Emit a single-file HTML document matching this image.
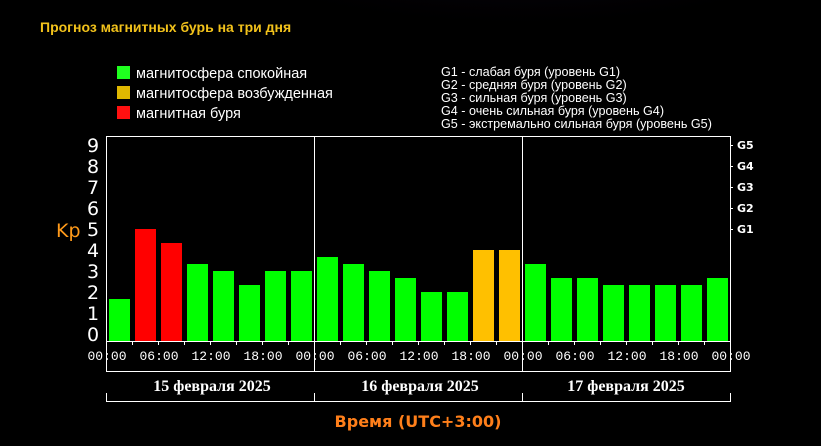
<!DOCTYPE html>
<html><head><meta charset="utf-8"><style>
html,body{margin:0;padding:0;background:#000;width:821px;height:446px;overflow:hidden}
</style></head><body>
<svg width="821" height="446" xmlns="http://www.w3.org/2000/svg" font-family="'Liberation Sans','DejaVu Sans',sans-serif">
<defs>
<radialGradient id="g1" cx="0.5" cy="0" r="0.6"><stop offset="0" stop-color="#3a1458" stop-opacity="0.9"/><stop offset="1" stop-color="#000" stop-opacity="0"/></radialGradient>
<pattern id="dots" x="0" y="0" width="13" height="21" patternUnits="userSpaceOnUse"><rect x="6" y="0" width="1" height="1" fill="#888"/></pattern>
</defs>
<rect width="821" height="446" fill="#000"/>
<ellipse cx="520" cy="10" rx="330" ry="110" fill="url(#g1)"/>
<text x="40" y="32" fill="#f2c21b" font-size="14" font-weight="bold">Прогноз магнитных бурь на три дня</text>
<rect x="117" y="66" width="13" height="13" fill="#1fff1f"/>
<rect x="117" y="86" width="13" height="13" fill="#e0b800"/>
<rect x="117" y="106" width="13" height="13" fill="#ff1010"/>
<g fill="#fff" font-size="14.5"><text x="136" y="78">магнитосфера спокойная</text><text x="136" y="98">магнитосфера возбужденная</text><text x="136" y="118">магнитная буря</text></g>
<g fill="#fff" font-size="12.6"><text x="441" y="76">G1 - слабая буря (уровень G1)</text><text x="441" y="89">G2 - средняя буря (уровень G2)</text><text x="441" y="102">G3 - сильная буря (уровень G3)</text><text x="441" y="115">G4 - очень сильная буря (уровень G4)</text><text x="441" y="128">G5 - экстремально сильная буря (уровень G5)</text></g>
<g>
<rect x="106" y="145" width="624" height="1" fill="url(#dots)"/>
<rect x="106" y="166" width="624" height="1" fill="url(#dots)"/>
<rect x="106" y="187" width="624" height="1" fill="url(#dots)"/>
<rect x="106" y="208" width="624" height="1" fill="url(#dots)"/>
<rect x="106" y="229" width="624" height="1" fill="url(#dots)"/>
</g>
<g>
<rect x="109" y="299" width="21" height="42" fill="#00ff00"/>
<rect x="135" y="229" width="21" height="112" fill="#ff0000"/>
<rect x="161" y="243" width="21" height="98" fill="#ff0000"/>
<rect x="187" y="264" width="21" height="77" fill="#00ff00"/>
<rect x="213" y="271" width="21" height="70" fill="#00ff00"/>
<rect x="239" y="285" width="21" height="56" fill="#00ff00"/>
<rect x="265" y="271" width="21" height="70" fill="#00ff00"/>
<rect x="291" y="271" width="21" height="70" fill="#00ff00"/>
<rect x="317" y="257" width="21" height="84" fill="#00ff00"/>
<rect x="343" y="264" width="21" height="77" fill="#00ff00"/>
<rect x="369" y="271" width="21" height="70" fill="#00ff00"/>
<rect x="395" y="278" width="21" height="63" fill="#00ff00"/>
<rect x="421" y="292" width="21" height="49" fill="#00ff00"/>
<rect x="447" y="292" width="21" height="49" fill="#00ff00"/>
<rect x="473" y="250" width="21" height="91" fill="#ffc000"/>
<rect x="499" y="250" width="21" height="91" fill="#ffc000"/>
<rect x="525" y="264" width="21" height="77" fill="#00ff00"/>
<rect x="551" y="278" width="21" height="63" fill="#00ff00"/>
<rect x="577" y="278" width="21" height="63" fill="#00ff00"/>
<rect x="603" y="285" width="21" height="56" fill="#00ff00"/>
<rect x="629" y="285" width="21" height="56" fill="#00ff00"/>
<rect x="655" y="285" width="21" height="56" fill="#00ff00"/>
<rect x="681" y="285" width="21" height="56" fill="#00ff00"/>
<rect x="707" y="278" width="21" height="63" fill="#00ff00"/>
</g>
<g stroke="#fff" stroke-width="1" fill="none">
<line x1="106" y1="136.5" x2="730" y2="136.5"/>
<line x1="106.5" y1="136" x2="106.5" y2="372"/>
<line x1="314.5" y1="136" x2="314.5" y2="372"/>
<line x1="522.5" y1="136" x2="522.5" y2="372"/>
<line x1="730.5" y1="136" x2="730.5" y2="372"/>
<line x1="106" y1="341.5" x2="731" y2="341.5"/>
<line x1="106" y1="371.5" x2="731" y2="371.5"/>
<line x1="106" y1="401.5" x2="731" y2="401.5"/>
<line x1="106.5" y1="393" x2="106.5" y2="401"/>
<line x1="314.5" y1="393" x2="314.5" y2="401"/>
<line x1="522.5" y1="393" x2="522.5" y2="401"/>
<line x1="730.5" y1="393" x2="730.5" y2="401"/>
<path d="M730 145.5h3M730 166.5h3M730 187.5h3M730 208.5h3M730 229.5h3"/>
<path d="M132.5 341v4M158.5 341v4M184.5 341v4M210.5 341v4M236.5 341v4M262.5 341v4M288.5 341v4M340.5 341v4M366.5 341v4M392.5 341v4M418.5 341v4M444.5 341v4M470.5 341v4M496.5 341v4M548.5 341v4M574.5 341v4M600.5 341v4M626.5 341v4M652.5 341v4M678.5 341v4M704.5 341v4"/>
</g>
<g fill="#fff" font-size="19" font-family="'DejaVu Sans',sans-serif" text-anchor="middle">
<text x="93" y="152">9</text><text x="93" y="173">8</text><text x="93" y="194">7</text><text x="93" y="215">6</text><text x="93" y="236">5</text><text x="93" y="257">4</text><text x="93" y="278">3</text><text x="93" y="299">2</text><text x="93" y="320">1</text><text x="93" y="341">0</text>
</g>
<text x="56" y="237" fill="#ff9a1a" font-size="19" font-family="'DejaVu Sans',sans-serif">Kp</text>
<g fill="#fff" font-size="11" font-weight="bold" font-family="'DejaVu Sans',sans-serif"><text x="737" y="149">G5</text><text x="737" y="170">G4</text><text x="737" y="191">G3</text><text x="737" y="212">G2</text><text x="737" y="233">G1</text></g>
<g fill="#fff" font-size="13" font-family="'Liberation Mono',monospace" text-anchor="middle">
<text x="107" y="360">00:00</text><text x="159" y="360">06:00</text><text x="211" y="360">12:00</text><text x="263" y="360">18:00</text><text x="315" y="360">00:00</text><text x="367" y="360">06:00</text><text x="419" y="360">12:00</text><text x="471" y="360">18:00</text><text x="523" y="360">00:00</text><text x="575" y="360">06:00</text><text x="627" y="360">12:00</text><text x="679" y="360">18:00</text><text x="731" y="360">00:00</text>
</g>
<g fill="#fff" font-size="16" font-weight="bold" font-family="'Liberation Serif',serif" text-anchor="middle">
<text x="212" y="391">15 февраля 2025</text><text x="420" y="391">16 февраля 2025</text><text x="626" y="391">17 февраля 2025</text>
</g>
<text x="418" y="427" fill="#ff7f1a" font-size="16" font-weight="bold" font-family="'DejaVu Sans',sans-serif" text-anchor="middle">Время (UTC+3:00)</text>
</svg>
</body></html>
